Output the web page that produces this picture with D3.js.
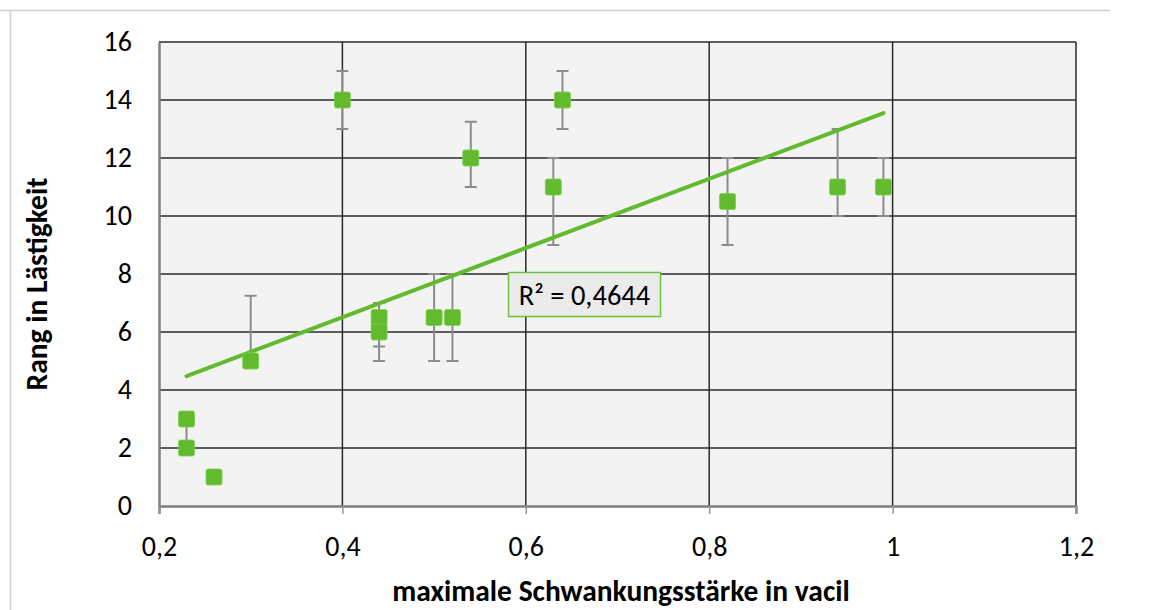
<!DOCTYPE html>
<html><head><meta charset="utf-8">
<script src="https://cdn.jsdelivr.net/npm/d3@7"></script>
<style>body{margin:0;background:#fff;} svg{display:block;} text{font-family:Carlito,'Open Sans',sans-serif;}</style>
</head><body><svg id="c" width="1159" height="610"></svg>
<script>
const xValues = [0.23, 0.23, 0.26, 0.30, 0.40, 0.44, 0.44, 0.50, 0.52, 0.54, 0.63, 0.64, 0.82, 0.94, 0.99];
const yValues = [3, 2, 1, 5, 14, 6.5, 6, 6.5, 6.5, 12, 11, 14, 10.5, 11, 11];
const errLow  = [3, 2, 1, 5, 13, 5.5, 5, 5, 5, 11, 9, 13, 9, 10, 10];
const errHigh = [3, 3, 1, 7.25, 15, 7, 7, 8, 8, 13.25, 12, 15, 12, 13, 12];
const trendX = [0.23, 0.99];
const trendY = [4.48, 13.55];
const xTicks = [0.2, 0.4, 0.6, 0.8, 1.0, 1.2];
const yTicks = [0, 2, 4, 6, 8, 10, 12, 14, 16];
const r2Label = "R² = 0,4644";
const xTitle = "maximale Schwankungsstärke in vacil";
const yTitle = "Rang in Lästigkeit";

const svg = d3.select("#c");
const green = "#62bb2f";
const fmt = v => String(+v.toFixed(1)).replace(".", ",");

// outer frame
svg.append("line").attr("x1",0).attr("x2",1110).attr("y1",10.5).attr("y2",10.5).attr("stroke","#d0d0d0").attr("stroke-width",1.5);
svg.append("line").attr("x1",10.5).attr("x2",10.5).attr("y1",10).attr("y2",610).attr("stroke","#d0d0d0").attr("stroke-width",1.5);

const x = d3.scaleLinear().domain([0.2, 1.2]).range([159, 1076]);
const y = d3.scaleLinear().domain([0, 16]).range([506, 42]);

svg.append("rect").attr("x",x(0.2)).attr("y",y(16)).attr("width",x(1.2)-x(0.2)).attr("height",y(0)-y(16)).attr("fill","#f3f3f3");

// gridlines
svg.append("g").selectAll("line").data(yTicks.filter(d=>d>0)).join("line")
  .attr("x1",x(0.2)).attr("x2",x(1.2)).attr("y1",d=>y(d)).attr("y2",d=>y(d))
  .attr("stroke","#2a2a2a").attr("stroke-width",1.5);
svg.append("g").selectAll("line").data(xTicks.filter(d=>d>0.2)).join("line")
  .attr("x1",d=>x(d)).attr("x2",d=>x(d)).attr("y1",y(16)).attr("y2",y(0))
  .attr("stroke","#2a2a2a").attr("stroke-width",1.5);

// axes
const xAxis = d3.axisBottom(x).tickValues(xTicks).tickFormat(fmt).tickSize(8).tickPadding(22);
const gx = svg.append("g").attr("transform",`translate(0,${y(0)})`).call(xAxis);
gx.attr("font-size",28).attr("font-family",null);
gx.select(".domain").attr("stroke","#7f7f7f").attr("stroke-width",2.5);
gx.selectAll(".tick line").attr("stroke","#9a9a9a").attr("stroke-width",1.5);
gx.selectAll("text").attr("fill","#000");

const yAxis = d3.axisLeft(y).tickValues(yTicks).tickFormat(d=>d).tickSize(0).tickPadding(27);
const gy = svg.append("g").attr("transform",`translate(${x(0.2)},0)`).call(yAxis);
gy.attr("font-size",28).attr("font-family",null);
gy.select(".domain").attr("stroke","#7f7f7f").attr("stroke-width",2.5);
gy.selectAll("text").attr("fill","#000");

// error bars
const data = xValues.map((v,i)=>({x:v,y:yValues[i],lo:errLow[i],hi:errHigh[i]}));
const eb = svg.append("g").attr("stroke","#8c8c8c").attr("stroke-width",2);
data.forEach(d=>{
  if (d.hi === d.lo) return;
  eb.append("line").attr("x1",x(d.x)).attr("x2",x(d.x)).attr("y1",y(d.lo)).attr("y2",y(d.hi));
  if (d.hi !== d.y) eb.append("line").attr("x1",x(d.x)-6).attr("x2",x(d.x)+6).attr("y1",y(d.hi)).attr("y2",y(d.hi));
  if (d.lo !== d.y) eb.append("line").attr("x1",x(d.x)-6).attr("x2",x(d.x)+6).attr("y1",y(d.lo)).attr("y2",y(d.lo));
});

// trendline
svg.append("line").attr("x1",x(trendX[0])).attr("y1",y(trendY[0])).attr("x2",x(trendX[1])).attr("y2",y(trendY[1]))
  .attr("stroke",green).attr("stroke-width",4).attr("stroke-linecap","round");

// markers
svg.append("g").selectAll("rect").data(data).join("rect")
  .attr("x",d=>x(d.x)-8).attr("y",d=>y(d.y)-8).attr("width",16).attr("height",16).attr("rx",2)
  .attr("fill",green).attr("stroke","#7dd04a").attr("stroke-width",0.8);

// R² label
const lb = svg.append("g");
lb.append("rect").attr("x",508.5).attr("y",272.5).attr("width",152).attr("height",44)
  .attr("fill","#ebebeb").attr("stroke","#6cc43a").attr("stroke-width",1.5);
lb.append("text").attr("x",584.5).attr("y",305).attr("text-anchor","middle").attr("font-size",28.5).attr("fill","#000").text(r2Label);

// titles
svg.append("text").attr("x",621).attr("y",601).attr("text-anchor","middle").attr("font-size",29.5).attr("font-weight","bold").text(xTitle);
svg.append("text").attr("transform","translate(47,284) rotate(-90)").attr("text-anchor","middle").attr("font-size",29.5).attr("font-weight","bold").text(yTitle);
</script>
</body></html>
